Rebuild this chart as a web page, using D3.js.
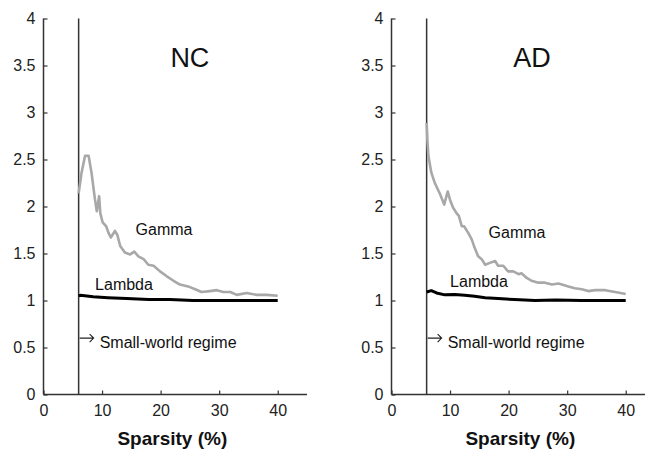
<!DOCTYPE html>
<html>
<head>
<meta charset="utf-8">
<script src="https://cdn.jsdelivr.net/npm/d3@7"></script>
<style>
  html, body { margin: 0; padding: 0; background: #fff; }
  svg { display: block; font-family: Arial, "Liberation Sans", sans-serif; }
</style>
</head>
<body>
<svg id="chart" width="645" height="449"></svg>
<script>
// Small-world metrics across network sparsity, two groups
const xTicks = [0, 10, 20, 30, 40];
const yTicks = [0, 0.5, 1, 1.5, 2, 2.5, 3, 3.5, 4];
const regimeStart = 6;

const ncGammaX = [6, 6.5, 7.1, 7.7, 8.2, 8.8, 9.1, 9.5, 9.7, 10.1, 10.7, 11.1, 11.5, 12.2, 12.6, 13.1, 13.9, 14.8, 15.5, 16.2, 17.1, 17.9, 18.8, 19.9, 21.0, 22.2, 23.3, 24.7, 25.9, 27.0, 28.4, 29.6, 30.7, 31.9, 33.0, 34.7, 36.4, 38.1, 40];
const ncGammaY = [2.14, 2.36, 2.54, 2.54, 2.36, 2.07, 1.95, 2.11, 1.93, 1.83, 1.79, 1.72, 1.67, 1.74, 1.70, 1.58, 1.51, 1.49, 1.52, 1.47, 1.44, 1.38, 1.37, 1.31, 1.26, 1.21, 1.17, 1.15, 1.12, 1.09, 1.10, 1.11, 1.09, 1.09, 1.06, 1.08, 1.06, 1.06, 1.05];
const ncLambdaX = [6, 6.3, 8.5, 11, 14.2, 18, 21.6, 25.5, 30, 35, 40];
const ncLambdaY = [1.05, 1.055, 1.04, 1.03, 1.02, 1.01, 1.01, 1.0, 1.0, 1.0, 1.0];

const adGammaX = [6, 6.15, 6.3, 6.8, 7.4, 8.3, 9.0, 9.6, 10.0, 10.5, 11.1, 11.5, 12.0, 12.4, 13.1, 13.7, 14.2, 14.8, 15.4, 16.0, 16.8, 17.7, 18.2, 19.1, 19.9, 20.8, 21.7, 22.2, 23.1, 23.9, 25.1, 26.2, 27.4, 28.5, 29.1, 30.2, 31.3, 32.5, 33.6, 34.8, 36.5, 38.2, 40];
const adGammaY = [2.89, 2.68, 2.54, 2.36, 2.25, 2.13, 2.02, 2.16, 2.07, 1.99, 1.93, 1.90, 1.79, 1.79, 1.72, 1.65, 1.56, 1.47, 1.44, 1.38, 1.40, 1.42, 1.37, 1.37, 1.31, 1.31, 1.28, 1.29, 1.24, 1.21, 1.19, 1.19, 1.17, 1.18, 1.17, 1.15, 1.13, 1.12, 1.10, 1.11, 1.11, 1.09, 1.07];
const adLambdaX = [6, 6.8, 7.7, 9.1, 10.8, 12.5, 14.2, 16, 18.2, 21, 24.5, 28, 32.5, 40];
const adLambdaY = [1.09, 1.105, 1.08, 1.06, 1.065, 1.055, 1.045, 1.03, 1.02, 1.01, 1.0, 1.005, 1.0, 1.0];

const panels = [
  { title: "NC", titleAt: 25, left: 43.5, gx: ncGammaX, gy: ncGammaY, lx: ncLambdaX, ly: ncLambdaY,
    gammaLabel: [164, 235], lambdaLabel: [124, 290] },
  { title: "AD", titleAt: 24, left: 391.5, gx: adGammaX, gy: adGammaY, lx: adLambdaX, ly: adLambdaY,
    gammaLabel: [517, 238], lambdaLabel: [479, 287] }
];

const svg = d3.select("#chart");
const plotTop = 18.5, plotBottom = 394.5, plotW = 263.5;
const y = d3.scaleLinear().domain([0, 4]).range([plotBottom, plotTop]);
const axisColor = "#333";

panels.forEach(p => {
  const x = d3.scaleLinear().domain([0, 45]).range([p.left, p.left + plotW]);
  const g = svg.append("g");

  // axes with short inward ticks
  const xAxis = g.append("g").attr("transform", `translate(0,${plotBottom})`)
    .call(d3.axisBottom(x).tickValues(xTicks).tickSize(-4).tickPadding(10).tickFormat(d3.format("d")));
  const yAxis = g.append("g").attr("transform", `translate(${p.left},0)`)
    .call(d3.axisLeft(y).tickValues(yTicks).tickSize(-4).tickPadding(8).tickFormat(d => String(d)));
  [xAxis, yAxis].forEach(a => {
    a.select(".domain").attr("stroke", axisColor).attr("stroke-width", 1.5);
    a.selectAll(".tick line").attr("stroke", axisColor).attr("stroke-width", 1.2);
    a.selectAll(".tick text").attr("fill", "#222").style("font-size", "16px").style("font-family", "Arial, 'Liberation Sans', sans-serif");
  });
  xAxis.select(".domain").attr("d", `M${p.left},0H${p.left + plotW}`);
  yAxis.select(".domain").attr("d", `M0,${plotBottom}V${plotTop}`);

  // start of the small-world regime
  g.append("line")
    .attr("x1", x(regimeStart)).attr("x2", x(regimeStart))
    .attr("y1", y(4)).attr("y2", y(0))
    .attr("stroke", axisColor).attr("stroke-width", 1.5);

  const line = d3.line().x(d => x(d[0])).y(d => y(d[1])).curve(d3.curveLinear);

  g.append("path")
    .datum(p.gx.map((v, i) => [v, p.gy[i]]))
    .attr("d", line).attr("fill", "none")
    .attr("stroke", "#a8a8a8").attr("stroke-width", 2.6).attr("stroke-linejoin", "round");

  g.append("path")
    .datum(p.lx.map((v, i) => [v, p.ly[i]]))
    .attr("d", line).attr("fill", "none")
    .attr("stroke", "#000").attr("stroke-width", 3).attr("stroke-linejoin", "round");

  // labels
  g.append("text").attr("x", x(p.titleAt)).attr("y", 67).attr("text-anchor", "middle")
    .style("font-size", "27px").attr("fill", "#111").text(p.title);
  g.append("text").attr("x", p.gammaLabel[0]).attr("y", p.gammaLabel[1]).attr("text-anchor", "middle")
    .style("font-size", "16px").attr("fill", "#111").text("Gamma");
  g.append("text").attr("x", p.lambdaLabel[0]).attr("y", p.lambdaLabel[1]).attr("text-anchor", "middle")
    .style("font-size", "16px").attr("fill", "#111").text("Lambda");

  // arrow into the regime
  const ax = x(regimeStart) + 1, ay = y(0.6);
  g.append("path")
    .attr("d", `M${ax},${ay}H${ax + 14}M${ax + 10},${ay - 4}L${ax + 14},${ay}L${ax + 10},${ay + 4}`)
    .attr("fill", "none").attr("stroke", "#222").attr("stroke-width", 1.1);
  g.append("text").attr("x", ax + 20).attr("y", 347.5)
    .style("font-size", "16px").attr("fill", "#111").text("Small-world regime");

  g.append("text").attr("x", x(22)).attr("y", 445).attr("text-anchor", "middle")
    .style("font-size", "19px").style("font-weight", "bold").attr("fill", "#111").text("Sparsity (%)");
});
</script>
</body>
</html>
